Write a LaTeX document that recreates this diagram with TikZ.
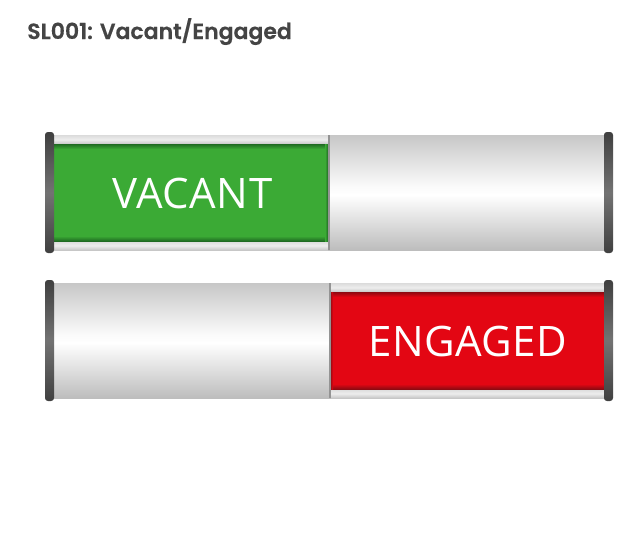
\documentclass[tikz,border=0pt]{standalone}
\usepackage{fontspec}
\setmainfont[LetterSpace=1.2]{Open Sans}
\newfontfamily\titlefont[BoldFont={Poppins SemiBold},BoldFeatures={FakeBold=0.4}]{Poppins}
\definecolor{vacantgreen}{HTML}{3BAA35}
\definecolor{greendark}{HTML}{1F6B22}
\definecolor{engagedred}{HTML}{E30613}
\definecolor{reddark}{HTML}{8E0A12}
\definecolor{titlegrey}{HTML}{444444}
\pgfdeclareverticalshading{railshade}{100bp}{
  rgb(0bp)=(0.74,0.74,0.74);
  rgb(25bp)=(0.74,0.74,0.74);
  rgb(36bp)=(0.86,0.86,0.86);
  rgb(49bp)=(1,1,1);
  rgb(53bp)=(0.98,0.98,0.98);
  rgb(66bp)=(0.86,0.86,0.86);
  rgb(75bp)=(0.78,0.78,0.78);
  rgb(100bp)=(0.78,0.78,0.78)}
\pgfdeclareverticalshading{capshade}{100bp}{
  rgb(0bp)=(0.25,0.25,0.25);
  rgb(25bp)=(0.25,0.25,0.25);
  rgb(50bp)=(0.45,0.45,0.45);
  rgb(75bp)=(0.25,0.25,0.25);
  rgb(100bp)=(0.25,0.25,0.25)}
\pgfdeclareverticalshading{lipshade}{100bp}{
  rgb(0bp)=(0.78,0.78,0.78);
  rgb(25bp)=(0.78,0.78,0.78);
  rgb(50bp)=(0.93,0.93,0.93);
  rgb(75bp)=(0.86,0.86,0.86);
  rgb(100bp)=(0.86,0.86,0.86)}
\tikzset{
  rail/.style={shading=railshade,draw=none},
  lip/.style={shading=lipshade,draw=none},
  endcap/.style={shading=capshade,draw=none,rounded corners=2.2},
  divider/.style={fill=black!42,draw=none},
  signtext/.style={text=white,font=\fontsize{31.5}{32}\selectfont,inner sep=0pt,anchor=base},
  titletext/.style={text=titlegrey,font=\titlefont\bfseries\fontsize{16.5}{18}\selectfont,inner sep=0pt,anchor=base west}
}
\begin{document}
\begin{tikzpicture}[x=0.75pt,y=-0.75pt]
\useasboundingbox (0,0) rectangle (640,533);
\fill[white] (0,0) rectangle (640,533);
\node[titletext] (title) at (27,39) {SL001: Vacant/Engaged};

% top sign
\shade[rail] (50,135) rectangle (609,250);
\shade[lip] (50,135) rectangle (328,144);
\shade[lip] (50,241) rectangle (328,250);
\fill[vacantgreen] (54,144) rectangle (328,241);
\shade[top color=greendark,bottom color=vacantgreen] (54,144) rectangle (328,149);
\shade[top color=vacantgreen,bottom color=greendark] (54,236) rectangle (328,241);
\shade[left color=vacantgreen,right color=greendark] (325,144) rectangle (328,241);
\fill[divider] (327.5,135) rectangle (330,250);
\shade[endcap] (45,132) rectangle (54,253);
\shade[endcap] (604,132) rectangle (613,253);
\node[signtext] (vacant) at (192.5,208) {VACANT};

% bottom sign
\shade[rail] (50,283) rectangle (609,398);
\shade[lip] (331,283) rectangle (609,292);
\shade[lip] (331,389) rectangle (609,398);
\fill[engagedred] (330,292) rectangle (604,389);
\shade[top color=reddark,bottom color=engagedred] (330,292) rectangle (604,297);
\shade[top color=engagedred,bottom color=reddark] (330,384) rectangle (604,389);
\shade[left color=reddark,right color=engagedred] (330,292) rectangle (333,389);
\fill[divider] (329,283) rectangle (331,398);
\shade[endcap] (45,280) rectangle (54,401);
\shade[endcap] (604,280) rectangle (613,401);
\node[signtext] (engaged) at (468,356) {ENGAGED};
\end{tikzpicture}
\end{document}
